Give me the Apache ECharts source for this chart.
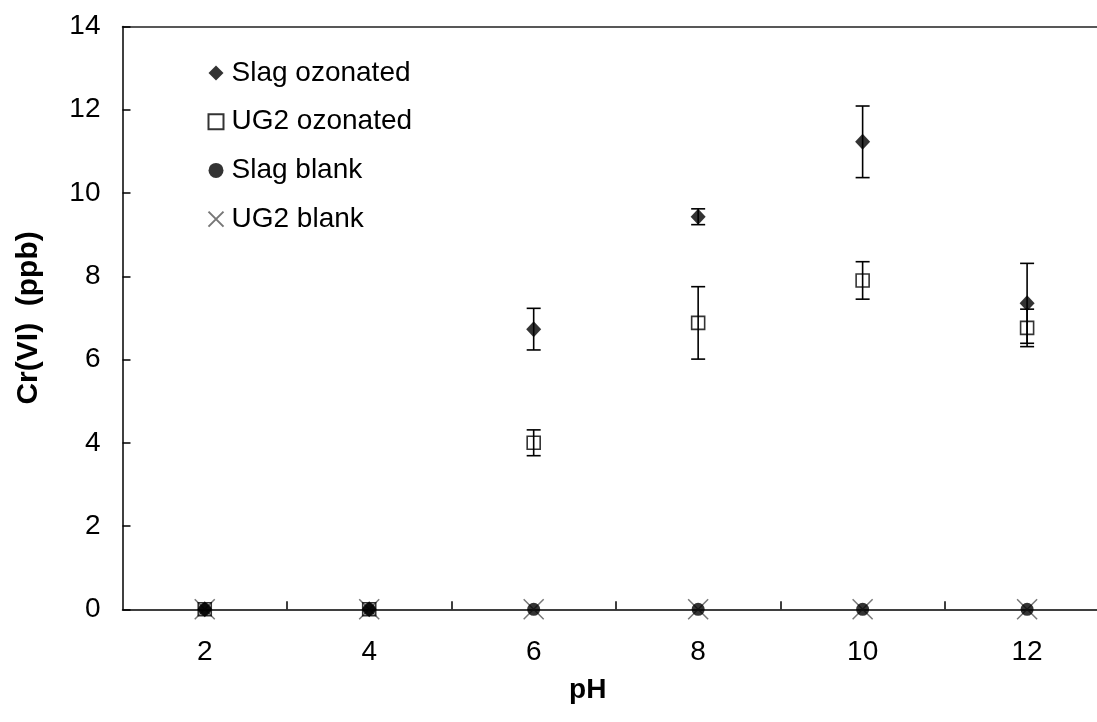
<!DOCTYPE html>
<html>
<head>
<meta charset="utf-8">
<script src="https://cdn.jsdelivr.net/npm/echarts@6/dist/echarts.min.js"></script>
<style>
html,body{margin:0;padding:0;background:#fff;}
#chart{width:1097px;height:722px;}
</style>
</head>
<body>
<div id="chart"></div>
<script>
// ---- data ----
const phValues = [2, 4, 6, 8, 10, 12];
const phTickBounds = [3, 5, 7, 9, 11];
const slagOzonated = [0, 0, 6.73, 9.43, 11.23, 7.35];
const slagOzonatedErr = [0, 0, 0.50, 0.19, 0.86, 0.96];
const ug2Ozonated = [0, 0, 4.00, 6.88, 7.90, 6.76];
const ug2OzonatedErr = [0, 0, 0.31, 0.87, 0.45, 0.45];
const slagBlank = [0, 0, 0, 0, 0, 0];
const ug2Blank = [0, 0, 0, 0, 0, 0];
const yTicks = [0, 14, 2];
const xRange = [1, 12.85];

const FONT = 'Liberation Sans, Arial, sans-serif';

function pairs(vals) { return vals.map((v, i) => [phValues[i], v]); }

function errData(vals, errs) {
  const out = [];
  vals.forEach((v, i) => { if (errs[i] > 0) out.push([phValues[i], v - errs[i], v + errs[i]]); });
  return out;
}

function errSeries(vals, errs) {
  return {
    type: 'custom',
    silent: true,
    z: 1,
    xAxisIndex: 0,
    data: errData(vals, errs),
    encode: { x: 0, y: [1, 2] },
    renderItem: function (params, api) {
      const x = api.value(0);
      const lo = api.coord([x, api.value(1)]);
      const hi = api.coord([x, api.value(2)]);
      const hw = 7;
      const st = { stroke: '#000', lineWidth: 1.6 };
      return {
        type: 'group',
        children: [
          { type: 'line', shape: { x1: lo[0], y1: lo[1], x2: hi[0], y2: hi[1] }, style: st },
          { type: 'line', shape: { x1: lo[0] - hw, y1: lo[1], x2: lo[0] + hw, y2: lo[1] }, style: st },
          { type: 'line', shape: { x1: hi[0] - hw, y1: hi[1], x2: hi[0] + hw, y2: hi[1] }, style: st }
        ]
      };
    }
  };
}

const chart = echarts.init(document.getElementById('chart'));
chart.setOption({
  animation: false,
  backgroundColor: '#fff',
  textStyle: { fontFamily: FONT, color: '#000' },
  grid: { left: 122.5, top: 26.5, right: 0, bottom: 112.7 },
  legend: {
    orient: 'vertical',
    left: 206, top: 59,
    padding: 0,
    itemWidth: 15, itemHeight: 15,
    itemGap: 20.7,
    textStyle: { fontFamily: FONT, fontSize: 28, color: '#000', lineHeight: 28, padding: [0, 0, 0, 3] },
    data: ['Slag ozonated', 'UG2 ozonated', 'Slag blank', 'UG2 blank']
  },
  xAxis: [{
    type: 'value',
    min: xRange[0], max: xRange[1],
    name: 'pH',
    nameLocation: 'middle',
    nameGap: 67,
    nameTextStyle: { fontFamily: FONT, fontSize: 28, fontWeight: 'bold', color: '#000', padding: [0, 44, 0, 0] },
    axisLine: { show: true, onZero: false, lineStyle: { color: '#000', width: 1.5 } },
    axisTick: { show: true, inside: true, length: 8, customValues: phTickBounds, lineStyle: { color: '#000', width: 1.5 } },
    axisLabel: { fontFamily: FONT, fontSize: 28, color: '#000', margin: 29, customValues: phValues },
    splitLine: { show: false }
  }, {
    type: 'value',
    position: 'top',
    min: xRange[0], max: xRange[1],
    axisLine: { show: true, onZero: false, lineStyle: { color: '#222', width: 1.5 } },
    axisTick: { show: false },
    axisLabel: { show: false },
    splitLine: { show: false }
  }],
  yAxis: {
    type: 'value',
    min: yTicks[0], max: yTicks[1], interval: yTicks[2],
    name: 'Cr(VI)  (ppb)',
    nameLocation: 'middle',
    nameGap: 79,
    nameTextStyle: { fontFamily: FONT, fontSize: 30, fontWeight: 'bold', color: '#000' },
    axisLine: { show: true, lineStyle: { color: '#000', width: 1.5 } },
    axisTick: { show: true, inside: true, length: 8, lineStyle: { color: '#000', width: 1.5 } },
    axisLabel: { fontFamily: FONT, fontSize: 28, color: '#000', margin: 22 },
    splitLine: { show: false }
  },
  series: [
    errSeries(slagOzonated, slagOzonatedErr),
    errSeries(ug2Ozonated, ug2OzonatedErr),
    {
      name: 'UG2 blank', type: 'scatter', z: 2,
      symbol: 'path://M0,0L10,10M10,0L0,10', symbolSize: 20,
      itemStyle: { color: 'none', borderColor: '#555', borderWidth: 1.5 },
      data: pairs(ug2Blank)
    },
    {
      name: 'Slag blank', type: 'scatter', z: 3,
      symbol: 'circle', symbolSize: 13,
      itemStyle: { color: '#000' },
      data: pairs(slagBlank)
    },
    {
      name: 'UG2 ozonated', type: 'scatter', z: 4,
      symbol: 'rect', symbolSize: 13,
      itemStyle: { color: 'none', borderColor: '#000', borderWidth: 1.6 },
      data: pairs(ug2Ozonated)
    },
    {
      name: 'Slag ozonated', type: 'scatter', z: 5,
      symbol: 'diamond', symbolSize: [15, 16],
      itemStyle: { color: '#000' },
      data: pairs(slagOzonated)
    }
  ]
});
</script>
</body>
</html>
